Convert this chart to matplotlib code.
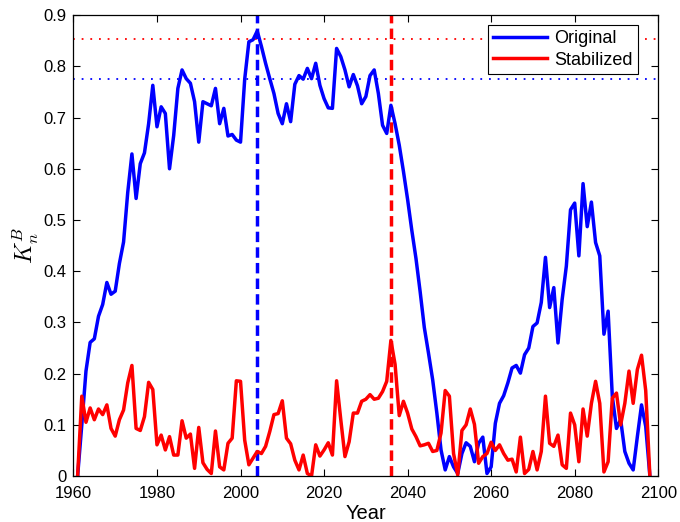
import numpy as np
import matplotlib
matplotlib.use('Agg')
import matplotlib.pyplot as plt

plt.rcParams['font.family'] = ['Liberation Sans', 'DejaVu Sans']
plt.rcParams['mathtext.fontset'] = 'cm'

years = np.arange(1961, 2099)

original = [
    0.0, 0.10, 0.205, 0.261, 0.268, 0.312, 0.335, 0.378, 0.355, 0.361,
    0.415, 0.457, 0.554, 0.629, 0.542, 0.61, 0.631, 0.688, 0.763, 0.682,
    0.721, 0.708, 0.60, 0.665, 0.757, 0.793, 0.776, 0.767, 0.731, 0.652,
    0.731, 0.727, 0.723, 0.757, 0.688, 0.718, 0.664, 0.667, 0.656, 0.652,
    0.775, 0.848, 0.852, 0.869, 0.839, 0.806, 0.776, 0.747, 0.708, 0.688,
    0.727, 0.692, 0.765, 0.782, 0.775, 0.796, 0.776, 0.806, 0.763, 0.737,
    0.719, 0.718, 0.835, 0.819, 0.793, 0.76, 0.784, 0.762, 0.727, 0.741,
    0.782, 0.793, 0.747, 0.685, 0.669, 0.724, 0.688, 0.646, 0.595, 0.54,
    0.48, 0.425, 0.36, 0.29, 0.24, 0.188, 0.123, 0.051, 0.012, 0.038,
    0.018, 0.005, 0.044, 0.065, 0.058, 0.028, 0.064, 0.076, 0.005, 0.018,
    0.103, 0.142, 0.157, 0.182, 0.211, 0.216, 0.201, 0.237, 0.25, 0.292,
    0.299, 0.339, 0.427, 0.329, 0.368, 0.26, 0.345, 0.41, 0.52, 0.533,
    0.43, 0.571, 0.487, 0.535, 0.456, 0.43, 0.277, 0.322, 0.156, 0.093,
    0.11, 0.048, 0.025, 0.012, 0.077, 0.139, 0.097, 0.0,
]

stabilized = [
    0.0, 0.156, 0.105, 0.133, 0.11, 0.131, 0.12, 0.139, 0.093, 0.078,
    0.11, 0.129, 0.182, 0.216, 0.093, 0.089, 0.116, 0.183, 0.169, 0.061,
    0.08, 0.051, 0.077, 0.041, 0.041, 0.108, 0.074, 0.082, 0.015, 0.095,
    0.026, 0.013, 0.005, 0.088, 0.018, 0.012, 0.064, 0.074, 0.186, 0.185,
    0.07, 0.022, 0.035, 0.048, 0.044, 0.058, 0.087, 0.12, 0.122, 0.147,
    0.074, 0.063, 0.031, 0.012, 0.041, 0.005, 0.0, 0.061, 0.039, 0.051,
    0.065, 0.041, 0.186, 0.11, 0.038, 0.067, 0.123, 0.123, 0.146, 0.15,
    0.159, 0.15, 0.152, 0.165, 0.185, 0.265, 0.218, 0.118, 0.146, 0.123,
    0.092, 0.077, 0.059, 0.061, 0.064, 0.048, 0.05, 0.084, 0.167, 0.156,
    0.044, 0.002, 0.089, 0.1, 0.131, 0.101, 0.025, 0.038, 0.044, 0.066,
    0.05, 0.061, 0.044, 0.031, 0.033, 0.008, 0.076, 0.005, 0.013, 0.048,
    0.012, 0.048, 0.156, 0.064, 0.058, 0.08, 0.022, 0.015, 0.123, 0.1,
    0.028, 0.131, 0.078, 0.142, 0.185, 0.142, 0.008, 0.028, 0.152, 0.162,
    0.1, 0.142, 0.205, 0.142, 0.208, 0.236, 0.167, 0.0,
]

# reference levels and peak years
level_red = 0.853
level_blue = 0.776
peak_orig_year = 2004
peak_stab_year = 2036

fig = plt.figure(figsize=(6.8, 5.22), dpi=100)
ax = fig.add_axes([0.108, 0.088, 0.860, 0.883])

ax.axhline(level_red, color='red', lw=1.3, ls=(0, (1, 3.8)))
ax.axhline(level_blue, color='blue', lw=1.3, ls=(0, (1, 3.8)))
ax.axvline(peak_orig_year, color='blue', lw=2.5, ls=(0, (3.0, 1.5)))
ax.axvline(peak_stab_year, color='red', lw=2.5, ls=(0, (3.0, 1.5)))

ax.plot(years, original, color='blue', lw=2.5, label='Original')
ax.plot(years, stabilized, color='red', lw=2.5, label='Stabilized')

ax.set_xlim(1960, 2100)
ax.set_ylim(0, 0.9)
ax.set_xticks(np.arange(1960, 2101, 20))
ax.set_yticks(np.arange(0, 0.91, 0.1))
ax.set_yticklabels(['0', '0.1', '0.2', '0.3', '0.4', '0.5', '0.6', '0.7', '0.8', '0.9'])
ax.tick_params(direction='in', top=True, right=True, length=5, labelsize=12, width=0.8)
ax.tick_params(axis='x', pad=7)
ax.tick_params(axis='y', pad=5)
for s in ax.spines.values():
    s.set_linewidth(0.9)

ax.set_xlabel('Year', fontsize=14.5, labelpad=2)
ax.set_ylabel(r'$K_n^B$', fontsize=17, labelpad=2)

leg = ax.legend(loc='upper right', bbox_to_anchor=(0.966, 0.979), borderaxespad=0,
                fontsize=13, fancybox=False, framealpha=1, edgecolor='black',
                handlelength=3.0, handletextpad=0.4, labelspacing=0.25,
                borderpad=0.3)
leg.get_frame().set_linewidth(0.8)

fig.savefig('out.png', dpi=100)
